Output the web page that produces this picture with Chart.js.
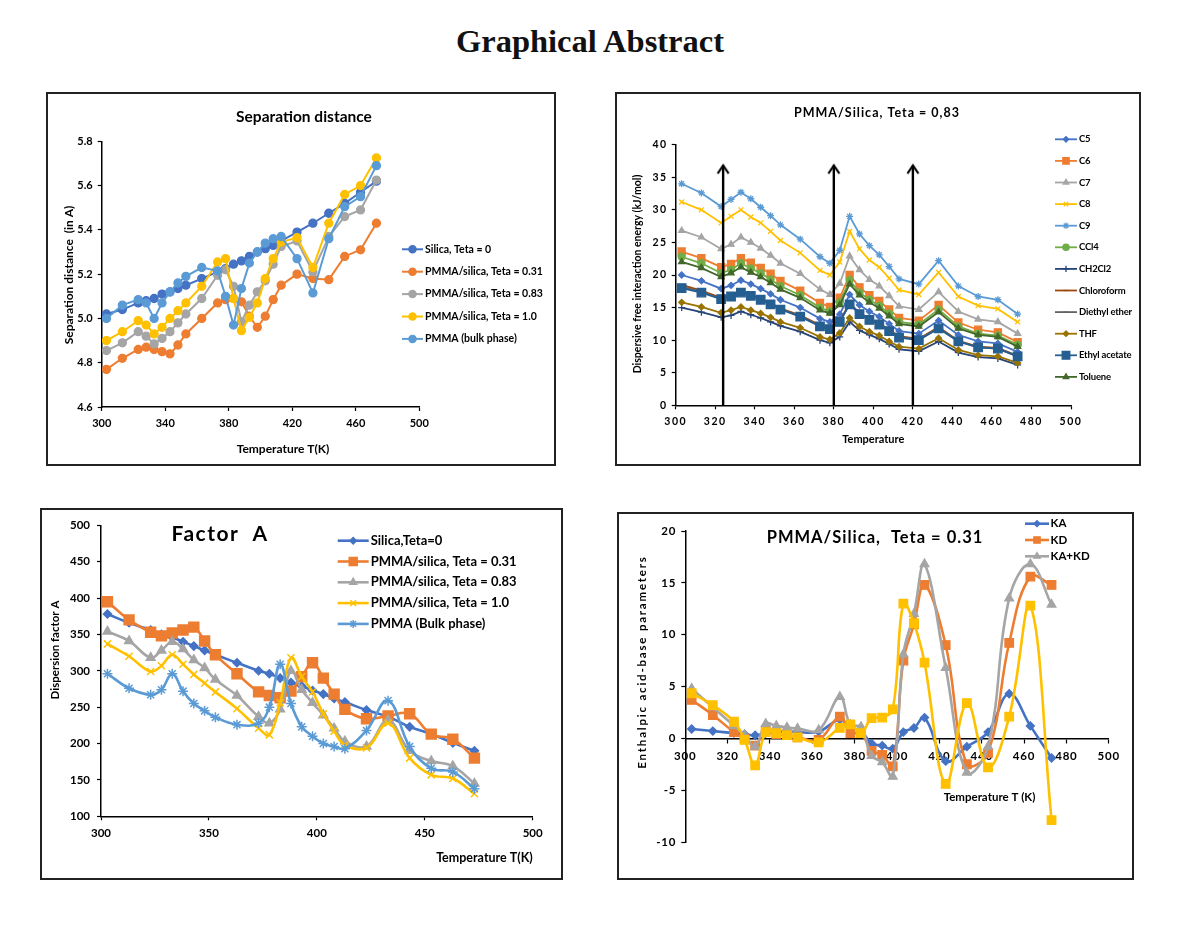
<!DOCTYPE html>
<html>
<head>
<meta charset="utf-8">
<script src="https://cdn.jsdelivr.net/npm/chart.js@4.4.1/dist/chart.umd.min.js"></script>
<style>
  html, body { margin: 0; padding: 0; background: #fff; }
  body { width: 1200px; height: 952px; position: relative; overflow: hidden; }
  h1 { position: absolute; left: 0; width: 1180px; top: 23px; margin: 0; line-height: 1;
       text-align: center; font: bold 32.5px "Liberation Serif", "Times New Roman", serif; color: #111; }
  .panel { position: absolute; border: 2px solid #222; box-sizing: border-box; background: #fff; }
  .panel canvas { display: block; }
</style>
</head>
<body>
<h1>Graphical Abstract</h1>
<div class="panel" style="left:46px;top:92px;width:510px;height:374px"><canvas id="c1" width="506" height="370"></canvas></div>
<div class="panel" style="left:615px;top:92px;width:526px;height:374px"><canvas id="c2" width="522" height="370"></canvas></div>
<div class="panel" style="left:40px;top:508px;width:523px;height:372px"><canvas id="c3" width="519" height="368"></canvas></div>
<div class="panel" style="left:617px;top:512px;width:517px;height:368px"><canvas id="c4" width="513" height="364"></canvas></div>
<script>
// temperatures (K) shared by all four plots
const temps = [303, 313, 323, 328, 333, 338, 343, 348, 353, 363, 373, 378, 383, 388, 393, 398, 403, 408, 413, 423, 433, 443, 453, 463, 473];

// --- Separation distance (A)
const sepLabels = ['Silica, Teta = 0', 'PMMA/silica, Teta = 0.31', 'PMMA/silica, Teta = 0.83', 'PMMA/silica, Teta = 1.0', 'PMMA (bulk phase)'];
const sepSilica = [5.02, 5.04, 5.07, 5.08, 5.09, 5.11, 5.12, 5.135, 5.15, 5.18, 5.21, 5.225, 5.245, 5.26, 5.28, 5.30, 5.315, 5.33, 5.35, 5.39, 5.43, 5.475, 5.52, 5.57, 5.62];
const sep031 = [4.77, 4.82, 4.86, 4.87, 4.86, 4.85, 4.84, 4.88, 4.93, 5.00, 5.07, 5.085, 5.09, 5.075, 5.01, 4.96, 5.01, 5.085, 5.15, 5.20, 5.18, 5.175, 5.28, 5.31, 5.43];
const sep083 = [4.855, 4.89, 4.94, 4.92, 4.885, 4.91, 4.94, 4.98, 5.02, 5.09, 5.195, 5.22, 5.145, 4.985, 5.06, 5.12, 5.17, 5.245, 5.325, 5.35, 5.21, 5.37, 5.46, 5.49, 5.625];
const sep10 = [4.90, 4.94, 4.99, 4.97, 4.93, 4.96, 5.00, 5.035, 5.07, 5.145, 5.255, 5.27, 5.09, 4.945, 5.005, 5.07, 5.18, 5.27, 5.345, 5.365, 5.23, 5.43, 5.56, 5.60, 5.725];
const sepBulk = [5.00, 5.06, 5.085, 5.07, 5.00, 5.07, 5.12, 5.16, 5.19, 5.23, 5.215, 5.10, 4.97, 5.135, 5.25, 5.30, 5.34, 5.36, 5.37, 5.27, 5.115, 5.36, 5.505, 5.55, 5.69];

// --- Dispersive free interaction energy (kJ/mol), PMMA/Silica Teta = 0,83
const dispLabels = ['C5', 'C6', 'C7', 'C8', 'C9', 'CCl4', 'CH2Cl2', 'Chloroform', 'Diethyl ether', 'THF', 'Ethyl acetate', 'Toluene'];
const dispC5 = [20.0, 19.1, 17.9, 18.4, 19.2, 18.6, 17.9, 17.1, 16.2, 15.0, 13.3, 12.8, 14.0, 17.0, 15.4, 14.4, 13.6, 12.5, 11.4, 11.0, 13.0, 10.8, 9.8, 9.5, 8.2];
const dispC6 = [23.6, 22.6, 21.2, 21.7, 22.6, 21.9, 21.1, 20.2, 19.1, 17.6, 15.7, 15.1, 16.5, 20.0, 18.1, 16.9, 16.0, 14.7, 13.4, 13.0, 15.4, 12.7, 11.6, 11.2, 9.7];
const dispC7 = [26.8, 25.8, 24.0, 24.7, 25.8, 25.0, 24.1, 23.0, 21.8, 20.2, 17.8, 17.0, 18.7, 22.9, 20.8, 19.3, 18.3, 16.8, 15.2, 14.7, 17.4, 14.4, 13.2, 12.8, 11.0];
const dispC8 = [31.2, 30.0, 28.0, 29.0, 30.0, 28.9, 28.0, 26.7, 25.3, 23.4, 20.7, 20.0, 22.0, 26.7, 24.0, 22.3, 21.2, 19.5, 17.7, 17.0, 20.4, 16.7, 15.3, 14.8, 12.8];
const dispC9 = [34.0, 32.6, 30.5, 31.6, 32.7, 31.7, 30.4, 29.1, 27.7, 25.5, 22.8, 21.8, 23.8, 29.0, 26.3, 24.5, 23.1, 21.3, 19.4, 18.6, 22.2, 18.3, 16.7, 16.2, 14.0];
const dispCCl4 = [22.8, 21.8, 20.3, 20.8, 21.8, 21.0, 20.3, 19.3, 18.3, 16.9, 15.0, 14.4, 15.8, 19.2, 17.3, 16.2, 15.3, 14.1, 12.8, 12.4, 14.7, 12.1, 11.0, 10.7, 9.3];
const dispCH2Cl2 = [15.0, 14.3, 13.5, 13.8, 14.4, 13.9, 13.4, 12.8, 12.2, 11.3, 10.0, 9.6, 10.5, 12.8, 11.5, 10.8, 10.2, 9.4, 8.6, 8.3, 9.8, 8.1, 7.4, 7.2, 6.2];
const dispChloro = [18.5, 17.6, 16.5, 16.9, 17.6, 17.0, 16.4, 15.7, 14.9, 13.8, 12.3, 11.8, 12.9, 15.7, 14.2, 13.3, 12.6, 11.6, 10.6, 10.2, 12.0, 9.9, 9.0, 8.8, 7.6];
const dispEther = [18.2, 17.4, 16.3, 16.7, 17.4, 16.9, 16.3, 15.6, 14.8, 13.7, 12.2, 11.7, 12.8, 15.6, 14.1, 13.2, 12.5, 11.5, 10.5, 10.1, 11.9, 9.8, 8.9, 8.7, 7.5];
const dispTHF = [15.8, 15.1, 14.2, 14.6, 15.1, 14.6, 14.1, 13.5, 12.8, 11.9, 10.5, 10.1, 11.1, 13.4, 12.1, 11.3, 10.7, 9.8, 9.0, 8.7, 10.3, 8.5, 7.7, 7.5, 6.5];
const dispEthylAc = [18.0, 17.3, 16.3, 16.7, 17.3, 16.8, 16.2, 15.5, 14.7, 13.6, 12.1, 11.7, 12.8, 15.5, 14.0, 13.1, 12.4, 11.4, 10.4, 10.0, 11.8, 9.8, 8.9, 8.7, 7.5];
const dispToluene = [22.0, 21.1, 19.7, 20.3, 21.2, 20.4, 19.7, 18.8, 17.8, 16.5, 14.6, 14.1, 15.4, 18.6, 16.9, 15.8, 14.9, 13.7, 12.5, 12.1, 14.3, 11.8, 10.8, 10.5, 9.0];
const arrowTemps = [324, 380, 420];
const arrowTop = 36.8;

// --- Dispersion factor A
const factorLabels = ['Silica,Teta=0', 'PMMA/silica, Teta = 0.31', 'PMMA/silica, Teta = 0.83', 'PMMA/silica, Teta = 1.0', 'PMMA (Bulk phase)'];
const facSilica = [378, 366, 356, 350, 346, 340, 334, 328, 322, 311, 300, 296, 290, 284, 279, 273, 268, 262, 257, 246, 237, 223, 213, 201, 190];
const fac031 = [395, 370, 353, 348, 352, 356, 360, 341, 322, 296, 271, 266, 263, 272, 292, 311, 290, 268, 247, 234, 238, 241, 213, 206, 180];
const fac083 = [354, 341, 318, 328, 340, 330, 315, 304, 288, 266, 237, 228, 247, 300, 274, 256, 239, 221, 203, 196, 232, 190, 176, 169, 145];
const fac10 = [337, 320, 299, 307, 322, 309, 295, 283, 271, 248, 221, 212, 256, 318, 292, 271, 241, 217, 198, 194, 228, 180, 157, 152, 131];
const facBulk = [296, 276, 267, 274, 296, 272, 255, 245, 236, 226, 228, 250, 309, 255, 223, 210, 200, 196, 193, 218, 259, 196, 166, 161, 138];

// --- Enthalpic acid-base parameters, PMMA/Silica Teta = 0.31
const acidLabels = ['KA', 'KD', 'KA+KD', ''];
const acidKA = [0.9, 0.7, 0.5, 0.4, 0.3, 0.5, 0.6, 0.7, 0.6, 0.65, 1.8, 1.0, 0.7, -0.5, -0.7, -1.0, 0.6, 1.0, 2.0, -2.2, -0.8, 0.6, 4.3, 1.2, -1.9];
const acidKD = [3.7, 2.25, 0.6, 0.0, -0.7, 0.8, 0.4, 0.3, 0.1, -0.15, 2.1, 0.5, 0.5, -1.2, -1.6, -2.7, 7.5, 11.0, 14.8, 9.0, -2.5, -1.4, 9.2, 15.6, 14.8];
const acidSum = [4.8, 3.0, 1.2, 0.3, -0.8, 1.4, 1.2, 1.05, 0.95, 0.8, 4.0, 1.3, 1.1, -1.7, -2.3, -3.7, 8.1, 12.0, 16.8, 6.8, -3.3, -0.8, 13.5, 16.8, 12.9];
const acidExtra = [4.35, 3.2, 1.6, -0.15, -2.6, 0.6, 0.5, 0.3, 0.1, -0.4, 1.0, 1.35, 0.5, 1.95, 2.0, 2.8, 13.0, 11.1, 7.3, -4.4, 3.4, -2.8, 2.1, 12.8, -7.9];

// office palette
const blue = '#4472C4', orange = '#ED7D31', gray = '#A5A5A5', gold = '#FFC000', sky = '#5B9BD5',
      green = '#70AD47', navy = '#264478', brown = '#9E480E', dgray = '#636363', olive = '#997300',
      steel = '#255E91', dgreen = '#43682B';

Chart.defaults.font.family = 'Lato, "Open Sans", sans-serif';
Chart.defaults.color = '#000';

const pts = (ys) => temps.map((t, i) => ({ x: t, y: ys[i] }));

function series(label, ys, color, style, r, i, extra) {
  return Object.assign({
    label, data: pts(ys), borderColor: color, backgroundColor: color,
    pointBackgroundColor: color, pointBorderColor: color, pointStyle: style,
    pointRadius: r, pointBorderWidth: 1.3, borderWidth: 2, tension: 0, order: -i
  }, extra || {});
}

function axis(min, max, step, dim, size, font, pad, extra) {
  return Object.assign({
    type: 'linear', min, max,
    ticks: { stepSize: step, font, color: '#000', padding: pad },
    grid: { display: true, drawOnChartArea: false, drawTicks: true, tickLength: 4, color: '#000', tickWidth: 1.2 },
    border: { display: true, color: '#000', width: 1.5 },
    afterFit: s => { s[dim] = size; }
  }, extra || {});
}

// free texts: titles and axis titles placed in canvas pixels
function textLayer(items) {
  return {
    id: 'texts',
    afterDraw(chart) {
      const ctx = chart.ctx;
      items.forEach(it => {
        ctx.save();
        ctx.font = it.font;
        ctx.fillStyle = '#000';
        ctx.letterSpacing = it.sp || '0px';
        ctx.textAlign = it.align || 'center';
        ctx.textBaseline = 'middle';
        ctx.translate(it.x, it.y);
        if (it.rot) ctx.rotate(it.rot);
        ctx.fillText(it.text, 0, 0);
        ctx.restore();
      });
    }
  };
}

// legend with a line segment and the series marker in its middle
function lineLegend(o) {
  return {
    id: 'lineLegend',
    afterDraw(chart) {
      const ctx = chart.ctx;
      let k = 0;
      chart.data.datasets.forEach(ds => {
        if (ds.inLegend === false) return;
        const y = o.y + k * o.dy;
        k++;
        ctx.save();
        ctx.letterSpacing = '0px';
        ctx.strokeStyle = ds.borderColor;
        ctx.lineWidth = ds.borderWidth;
        ctx.beginPath(); ctx.moveTo(o.x, y); ctx.lineTo(o.x + o.len, y); ctx.stroke();
        if (Chart.helpers && Chart.helpers.drawPoint) {
          ctx.fillStyle = ds.pointBackgroundColor;
          ctx.strokeStyle = ds.pointBorderColor;
          ctx.lineWidth = ds.pointBorderWidth;
          Chart.helpers.drawPoint(ctx, { pointStyle: ds.pointStyle, rotation: 0,
            radius: ds.pointRadius * (o.scale || 1), borderWidth: ds.pointBorderWidth }, o.x + o.len / 2, y);
        }
        ctx.fillStyle = '#000';
        ctx.font = o.font;
        ctx.letterSpacing = o.sp || '0px';
        ctx.textAlign = 'left';
        ctx.textBaseline = 'middle';
        ctx.fillText(ds.label, o.x + o.len + o.gap, y);
        ctx.restore();
      });
    }
  };
}

function spaced(sp) {
  return {
    id: 'spacing',
    beforeDraw(chart) { chart.ctx.letterSpacing = sp; },
    afterDraw(chart) { chart.ctx.letterSpacing = '0px'; }
  };
}

const baseOpts = (padding, scales) => ({
  responsive: false, animation: false, events: [],
  layout: { padding },
  plugins: { legend: { display: false }, title: { display: false }, tooltip: { enabled: false } },
  scales
});

// ---------- 1. Separation distance
const sepSets = [sepSilica, sep031, sep083, sep10, sepBulk];
const sepColors = [blue, orange, gray, gold, sky];
new Chart(document.getElementById('c1'), {
  type: 'line',
  data: { datasets: sepSets.map((ys, i) => series(sepLabels[i], ys, sepColors[i], 'circle', 4, i)) },
  options: baseOpts({ left: 0, top: 47.3, right: 134.7, bottom: 0 }, {
    x: axis(300, 500, 40, 'height', 57, { size: 11, weight: 'bold' }, 5.5),
    y: axis(4.6, 5.8, 0.2, 'width', 53.7, { size: 11, weight: 'bold' }, 5,
      { ticks: { stepSize: 0.2, font: { size: 11, weight: 'bold' }, color: '#000', padding: 5, callback: v => v.toFixed(1) } })
  }),
  plugins: [
    textLayer([
      { text: 'Separation distance', x: 256, y: 23, font: 'bold 15.5px Lato' },
      { text: 'Separation distance  (in A)', x: 21.3, y: 181, font: 'bold 12px Lato', rot: -Math.PI / 2 },
      { text: 'Temperature T(K)', x: 235, y: 355, font: 'bold 12px Lato' }
    ]),
    lineLegend({ x: 354, y: 155.3, dy: 22.4, len: 21, gap: 2, font: 'bold 10.5px Lato', scale: 0.9 })
  ]
});

// ---------- 2. Dispersive free interaction energy
const dispSets = [dispC5, dispC6, dispC7, dispC8, dispC9, dispCCl4, dispCH2Cl2, dispChloro, dispEther, dispTHF, dispEthylAc, dispToluene];
const dispColors = [blue, orange, gray, gold, sky, green, navy, brown, dgray, olive, steel, dgreen];
const dispStyles = ['rectRot', 'rect', 'triangle', 'crossRot', 'star', 'circle', 'cross', 'line', 'line', 'rectRot', 'rect', 'triangle'];
const dispSizes = [3, 5, 3.5, 3.5, 3.5, 3.5, 3.5, 3, 3, 3, 6, 3.5];

// open arrow head used on the vertical guide lines
const head = document.createElement('canvas');
head.width = 14; head.height = 24;
(function () {
  const g = head.getContext('2d');
  g.strokeStyle = '#000'; g.lineWidth = 2.2; g.lineJoin = 'miter';
  g.beginPath(); g.moveTo(1.5, 20); g.lineTo(7, 12); g.lineTo(12.5, 20); g.stroke();
})();

const arrowSets = arrowTemps.map(t => ({
  label: 'arrow', inLegend: false, data: [{ x: t, y: 0 }, { x: t, y: arrowTop }],
  borderColor: '#000', borderWidth: 2.4, pointRadius: [0, 6], pointStyle: head, order: -100
}));

new Chart(document.getElementById('c2'), {
  type: 'line',
  data: {
    datasets: arrowSets.concat(dispSets.map((ys, i) =>
      series(dispLabels[i], ys, dispColors[i], dispStyles[i], dispSizes[i], i, { borderWidth: 1.8 })))
  },
  options: baseOpts({ left: 0, top: 50.7, right: 68, bottom: 0 }, {
    x: axis(300, 500, 20, 'height', 58.7, { size: 10.5, weight: 'bold' }, 6),
    y: axis(0, 40, 5, 'width', 58.7, { size: 10.5, weight: 'bold' }, 4)
  }),
  plugins: [
    spaced('1.5px'),
    textLayer([
      { text: 'PMMA/Silica, Teta = 0,83', x: 260, y: 19, font: 'bold 12.5px Lato', sp: '1px' },
      { text: 'Dispersive free interaction energy (kJ/mol)', x: 20.7, y: 180, font: 'bold 10.5px Lato', rot: -Math.PI / 2 },
      { text: 'Temperature', x: 256.3, y: 345, font: 'bold 11px Lato' }
    ]),
    lineLegend({ x: 438, y: 45.3, dy: 21.6, len: 22, gap: 2, font: 'bold 9.5px Lato', sp: '-0.2px', scale: 0.9 })
  ]
});

// ---------- 3. Factor A
const facSets = [facSilica, fac031, fac083, fac10, facBulk];
const facColors = [blue, orange, gray, gold, sky];
const facStyles = ['rectRot', 'rect', 'triangle', 'crossRot', 'star'];
const facSizes = [4, 7, 5, 5, 5];
new Chart(document.getElementById('c3'), {
  type: 'line',
  data: {
    datasets: facSets.map((ys, i) => series(factorLabels[i], ys, facColors[i], facStyles[i], facSizes[i], i,
      { borderWidth: 2.6, tension: 0.4, pointBorderWidth: 1.5 }))
  },
  options: baseOpts({ left: 0, top: 15.3, right: 28.3, bottom: 0 }, {
    x: axis(300, 500, 50, 'height', 61.7, { size: 11.5, weight: 'bold' }, 6),
    y: axis(100, 500, 50, 'width', 59, { size: 11.5, weight: 'bold' }, 7)
  }),
  plugins: [
    textLayer([
      { text: 'Factor  A', x: 178, y: 24, font: 'bold 21px Lato', sp: '1.5px' },
      { text: 'Dispersion factor A', x: 13, y: 140, font: 'bold 11.5px Lato', rot: -Math.PI / 2 },
      { text: 'Temperature T(K)', x: 490.7, y: 348, font: 'bold 12.5px Lato', align: 'right' }
    ]),
    lineLegend({ x: 295.7, y: 30.7, dy: 20.8, len: 31, gap: 2, font: 'bold 13px Lato', scale: 0.8 })
  ]
});

// ---------- 4. Enthalpic acid-base parameters
const acidSets = [acidKA, acidKD, acidSum, acidExtra];
const acidColors = [blue, orange, gray, gold];
const acidStyles = ['rectRot', 'rect', 'triangle', 'rect'];
const acidSizes = [4, 6, 5, 6];
new Chart(document.getElementById('c4'), {
  type: 'line',
  data: {
    datasets: acidSets.map((ys, i) => series(acidLabels[i], ys, acidColors[i], acidStyles[i], acidSizes[i], i,
      { borderWidth: 2.6, tension: 0.4, inLegend: i < 3 }))
  },
  options: baseOpts({ left: 0, top: 17, right: 23.3, bottom: 36 }, {
    x: axis(300, 500, 20, 'height', 0, { size: 11.5, weight: 'bold' }, 7, { position: { y: 0 }, axis: 'x' }),
    y: axis(-10, 20, 5, 'width', 66.3, { size: 11.5, weight: 'bold' }, 5)
  }),
  plugins: [
    spaced('0.8px'),
    textLayer([
      { text: 'PMMA/Silica,  Teta = 0.31', x: 256, y: 24, font: 'bold 16.5px Lato', sp: '1px' },
      { text: 'Enthalpic acid-base parameters', x: 23, y: 148, font: 'bold 11.5px Lato', sp: '1.8px', rot: -Math.PI / 2 },
      { text: 'Temperature T (K)', x: 324.7, y: 283, font: 'bold 11.5px Lato', align: 'left' }
    ]),
    lineLegend({ x: 406, y: 9.7, dy: 16.3, len: 24, gap: 1.5, font: 'bold 11.5px Lato', scale: 0.75 })
  ]
});
</script>
</body>
</html>
